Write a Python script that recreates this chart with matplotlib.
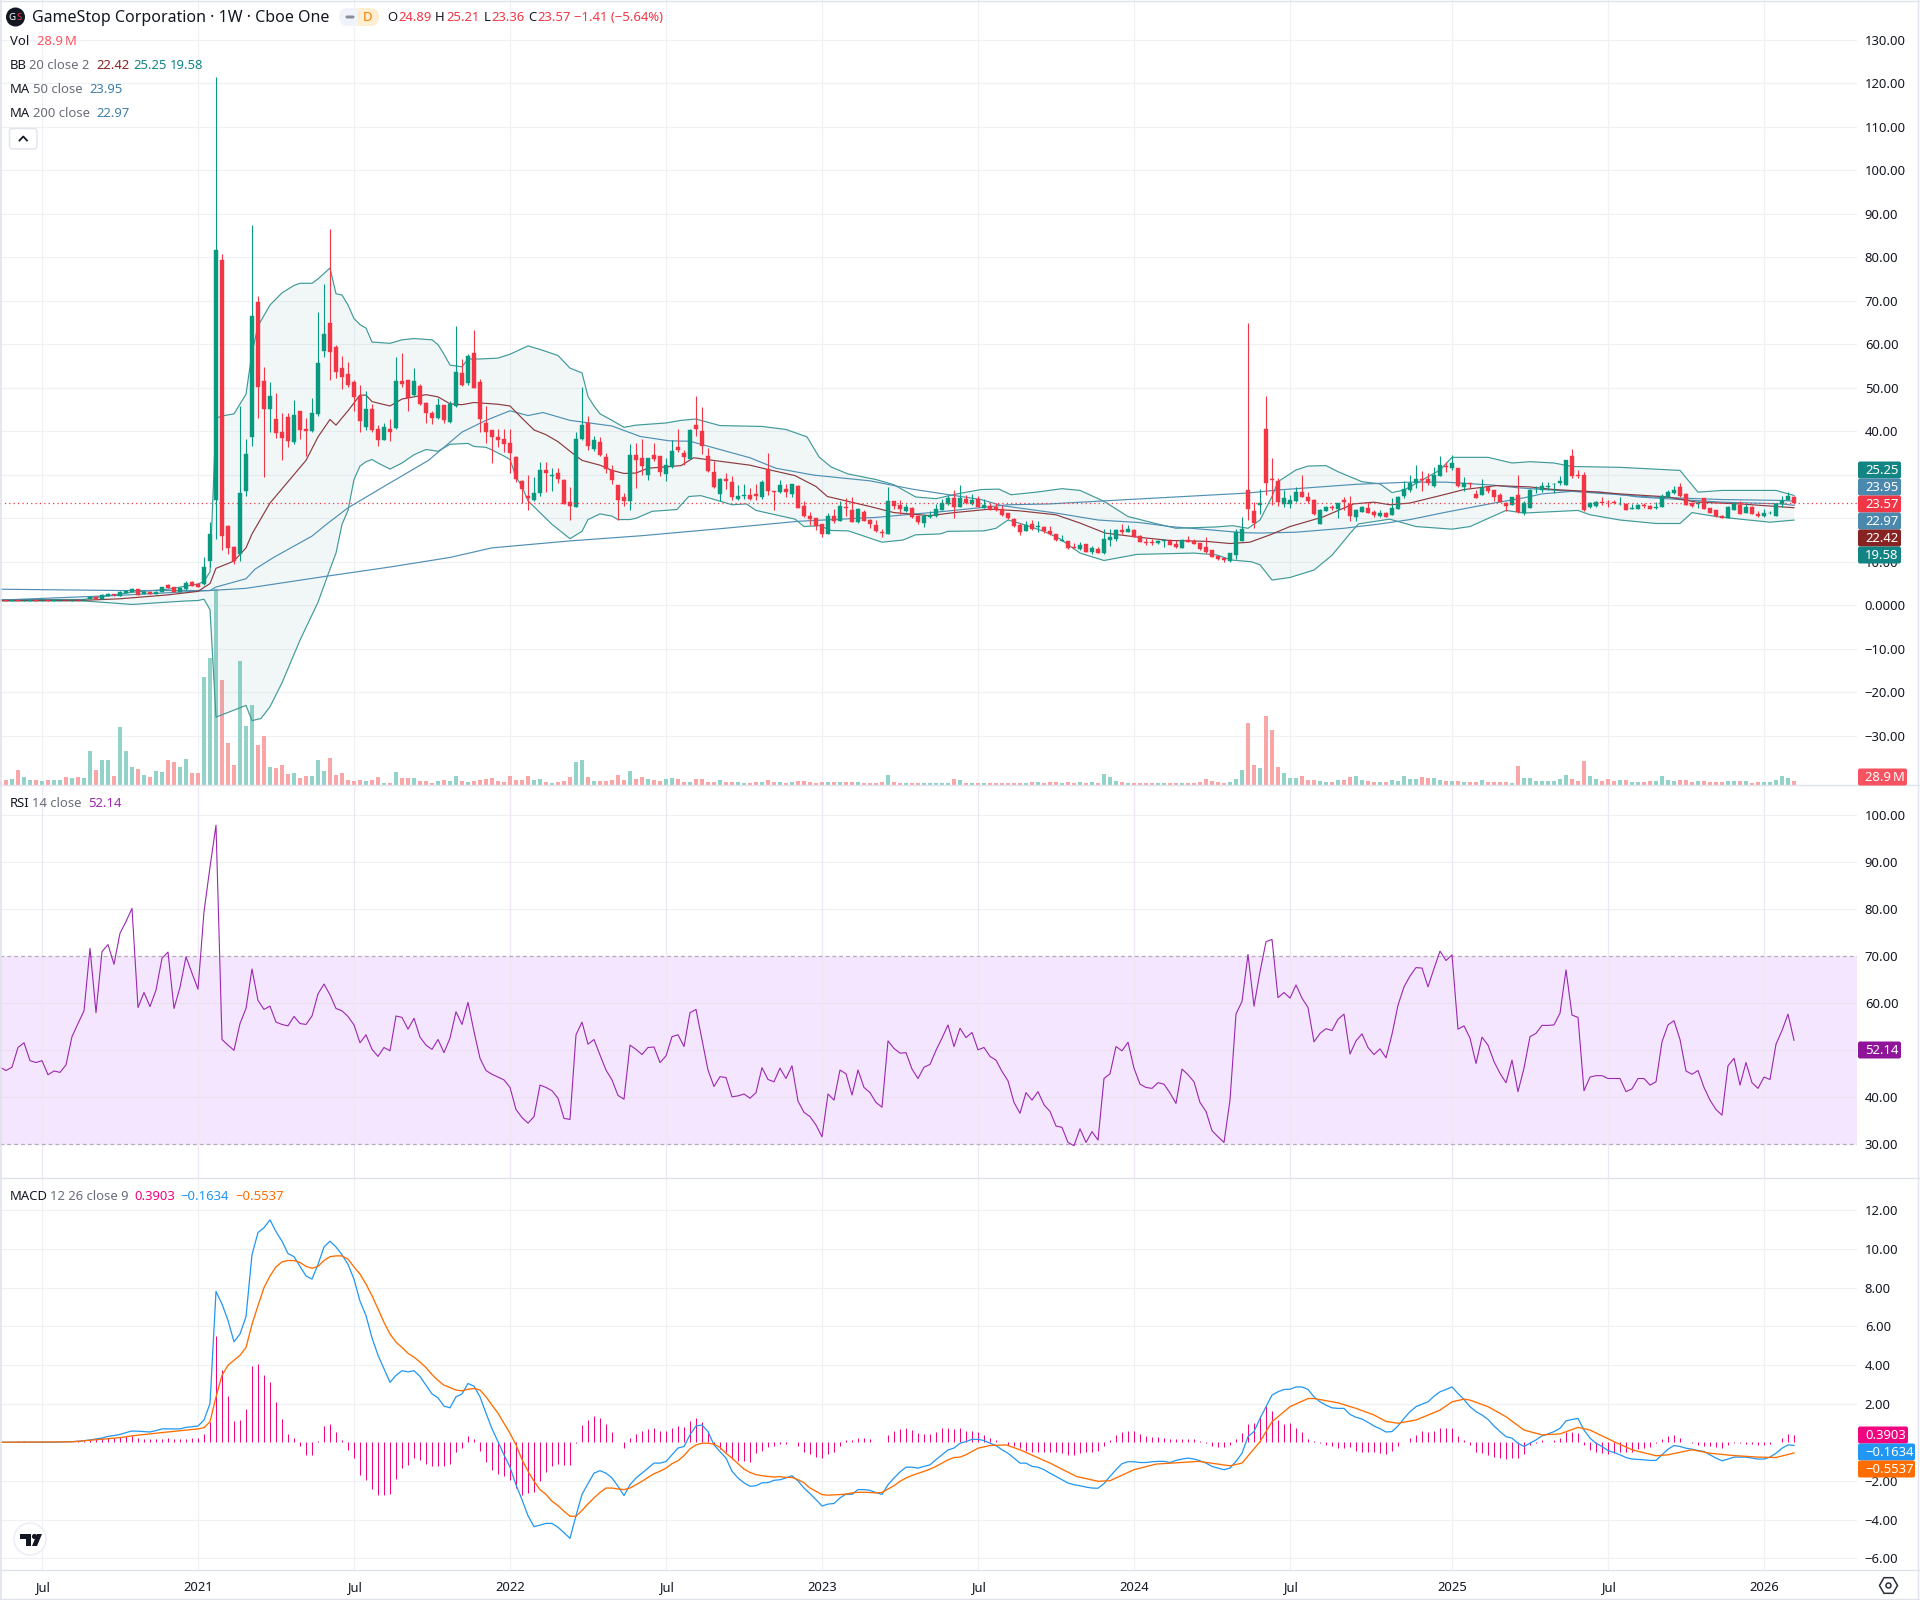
#!/usr/bin/python
# GameStop weekly chart with volume, bollinger bands, moving averages, RSI and MACD
import matplotlib
matplotlib.use('Agg')
import matplotlib.pyplot as plt
from matplotlib.patches import FancyBboxPatch, Rectangle, Circle, Polygon

plt.rcParams['font.family'] = ['Noto Sans', 'DejaVu Sans']

# --- candles, one value per week --- #
opens = [1.25,1.15,1.05,1.2,1.15,1.1,1.2,1.15,1.2,1.1,
         1.15,1.2,1.15,1.2,1.15,1.4,2.0,1.4,2.2,2.6,
         2.2,2.9,3.1,3.75,2.6,3.1,2.6,3.1,4.7,4.2,
         3.1,3.75,5.4,4.9,4.8,10.2,24.2,79.3,18.3,13.4,
         11.7,26.2,38.7,69.7,51.5,45.2,42.8,39.8,43.3,37.6,
         44.6,40.4,40,43.9,58.4,64.8,59.3,54.5,53.2,51.3,
         48,40.9,45.2,40.6,38,40.4,40.7,51.5,51.7,48.4,
         50.4,46.6,44.2,43,46,42.2,45.8,53.4,51.1,57.9,
         51.2,41.8,40.2,38.7,38.2,37.4,34,28.6,25.1,24.3,
         25.7,31,29.7,30.5,28.9,23.7,22.6,38.2,42,35.9,
         37.6,34,31.1,27.6,24.8,24,34.6,33.9,30,34.6,
         34.2,30.2,31.7,36.4,35,33.6,41.5,40,34.4,30.7,
         25.6,29.1,28.4,24.4,25.2,25.4,25.5,24.9,31.4,26.3,
         26.1,26.8,25.6,27.5,22.9,20.6,20.1,18.7,16.5,20.6,
         19.4,22.6,21.9,19.2,21.5,19.6,18.5,16.9,16.5,24,
         23.1,21.7,22.4,20.5,19,20.3,20.6,21.9,23.3,24.7,
         22.7,24.5,23.3,24.5,22.4,22.9,22.6,22.2,21.1,19.9,
         18.5,17.1,18.6,18,18,17.1,16.4,14.8,14.8,13.4,
         13,14.1,12.3,13,12,15,15.3,17.3,16.9,17.3,
         16,14.6,14.6,14.3,14.8,14.8,14.1,13.2,15,14.8,
         14.3,13.4,12.7,11.3,10.9,10.2,11.6,14.8,26.6,21.7,
         23.1,40.4,29.1,28.6,23.3,23.3,24,26.1,25,24.3,
         18.7,21.7,22.5,22.1,24.3,23.3,20.4,21.5,22.4,21.5,
         20.6,21.3,20.8,22.2,25.2,26.6,28,29,29.1,27.5,
         29.8,32,31.6,31.6,27.3,28.1,25.6,25.4,27.2,26.6,
         25.4,23.6,23.1,25.4,21.3,22.4,26.7,26.6,27.2,27.8,
         28,27.7,34.2,30,30,22.7,22.9,23.8,23.8,23.7,
         23.2,23.3,22.2,22.2,23.1,22.9,22.3,22.7,25,25.9,
         27.3,25.6,23.6,23.3,24.7,22.4,21.8,20.6,20,22,
         23.1,21.3,22.7,21,20.6,21.1,20.6,23.3,24.3,24.89]
highs = [1.3,1.2,1.2,1.25,1.25,1.2,1.25,1.25,1.25,1.2,
         1.25,1.25,1.25,1.25,1.35,2.1,2.1,2.5,2.75,2.7,
         3.4,3.6,3.9,3.85,3.2,3.2,3.2,4.2,4.8,4.3,
         4.1,5.5,5.6,5.1,11,19.1,121.3,80.8,18.4,13.6,
         45.8,38.2,87.4,71,54.8,51.2,48.8,44.3,44.1,47.1,
         44.7,43,47.6,67.5,73.8,86.5,59.9,57.2,56,51.8,
         50.6,49.2,46.3,41.4,42,42.7,57,58,51.8,54.5,
         50.8,46.7,44.6,47.7,46.1,46.9,64.1,56.5,57.7,63.3,
         52,45.7,40.3,40.4,40.4,40.4,34.3,28.7,30,29.5,
         33,33,31.5,31.5,29,27.2,39.8,50.1,43.4,39,
         38.7,34.9,32.2,27.7,25.7,37,37.4,38.2,33.9,37.2,
         34.4,33.9,38.1,40.5,35.6,40.5,48.2,45.6,36.2,33.1,
         29.3,30.4,29.8,27.7,27.9,26.9,27.9,28.9,35,26.3,
         28.9,27.9,27.9,27.6,23.9,21.4,20.1,18.7,21.2,22.1,
         23.9,24.6,24.9,22.4,21.9,19.8,19.6,17.5,27.1,24,
         24.1,23.3,22.7,20.8,21,21.6,23.3,24.4,25.4,26.6,
         27.7,25.4,25.6,25.2,24.4,23.6,23.5,23.1,21.2,20.1,
         18.9,19.4,19.6,19.3,18.3,18.3,16.4,16.2,14.8,14.3,
         14.5,14.1,13.6,13.3,17.6,17.6,17.6,18.7,18.5,17.6,
         16.1,15.4,15.3,15,15.2,15.2,15,15.3,16,15.3,
         14.3,15.7,12.7,11.3,10.9,12.1,17.6,20.3,64.9,23.8,
         26.8,48.2,33.9,29.3,26.6,25.4,27.1,30,26.1,24.4,
         22.2,22.9,23.1,23.6,24.8,25.2,22.1,22.9,23.8,21.8,
         22,21.5,24.6,25.2,28.6,30,32.3,30.9,30.4,31.8,
         34.4,32.9,34.6,31.6,29.4,28.2,26.6,29.1,27.3,26.6,
         25.7,23.8,25,30,24,26.7,27.5,28.4,28.4,28.1,
         29.6,33.3,36,31.2,30.7,23.8,24,24.8,24.3,24.3,
         25,23.5,23.3,23.3,23.5,23,23.8,25.6,26.6,27.5,
         28.2,25.9,23.8,24,24.7,22.4,22,20.8,22.9,23.8,
         24,23.3,22.9,21.6,22.1,21.7,23.6,25.2,26,25.21]
lows = [1.1,1.0,1.0,1.05,1.1,1.05,1.05,1.1,1.05,1.05,
        1.1,1.1,1.1,1.1,1.1,1.35,1.35,1.35,2.1,2.2,
        2.1,2.8,3.0,2.4,2.5,2.5,2.5,3.0,4.0,3.0,
        3,3.6,4.4,4.2,4.7,8.8,15.3,12.8,11.7,9.6,
        10.1,25.1,36.7,43,29.5,39.8,38.4,33.3,36.3,37,
        38.2,34.3,39.9,43.6,57,51.7,52.3,49.6,50.1,44.7,
        39.8,40.3,39.8,36.5,37.9,37.8,40.4,50.1,44.7,48,
        46,42,41.6,42.9,42,42,45.5,50.5,50.7,49.9,
        39.8,37.4,32.7,36.3,35.2,30.5,28.4,23.5,21.8,23.9,
        25.1,26,26.2,28.1,23.3,19.5,22.5,38,35.6,35.5,
        34.2,30.3,27.8,19.7,22.9,21.8,27,30,28.7,33.1,
        29.6,28.5,31.5,35.2,32.3,33.6,38.8,34.8,30.7,27,
        23.9,26.7,24.3,24.2,24.4,24.1,24.3,24.4,25.4,22,
        25.8,24.9,25,22.3,20.3,18.5,17.2,15.6,16.5,19,
        19.4,20.6,19.2,19,19.4,17.7,16.8,15.6,16.5,22.1,
        21,21.5,20.1,18.7,18,20.1,20.4,21.9,23.1,20.1,
        22.6,23.3,23.1,22.5,22.3,21.9,21.6,20.6,19.9,18.1,
        16.1,17.1,17.3,16.8,16.7,16.2,14.7,14.7,13,13.1,
        12.7,12.2,11.8,12,11.9,13.6,14.8,16.4,16.9,15.6,
        14.5,13.9,13.9,14.1,13.5,13.9,13.2,13.2,14.6,14.1,
        12.7,12.1,11,10.5,10,10,10.7,14.8,19.6,17.8,
        21,25.4,23,22.9,22.7,22.3,23.8,24.9,23.5,20.7,
        18.7,21.6,22,20,21.8,19.4,19.4,21.4,21.2,20.3,
        20.4,20.3,20.8,22.1,24.7,26.1,26.9,26.3,27.7,27.3,
        29.6,30.6,31,27.1,26.3,26.9,24.7,25.3,25.8,23.9,
        23.7,21.7,23,21.3,20.8,22.3,25.8,26.1,26.6,25.8,
        27.6,27.7,29.3,29.3,21.7,22.3,22.7,23.1,22.7,23.3,
        23.1,22,22.2,22.2,22.4,22.1,22.2,22.7,24.8,25.6,
        25,23,22.7,22.4,22.1,21.2,20.4,20,20,22,
        21,21.2,21,20.2,20.4,20.9,20.6,22.7,24.1,23.36]
closes = [1.15,1.05,1.15,1.1,1.2,1.15,1.1,1.2,1.1,1.15,
          1.2,1.15,1.2,1.15,1.3,2.0,1.4,2.4,2.6,2.3,
          3.05,3.4,3.75,2.45,3.1,2.6,3.1,4.1,4.05,3.1,
          4,5.05,4.5,4.3,8.8,16.4,81.6,15.9,13.2,10.1,
          25.7,34.7,66.4,50.1,45.2,48,39.6,38.5,37.8,43.7,
          40.2,40,44.3,55.7,62.3,58.3,53.6,52.4,50.7,47.8,
          42.3,45.2,40.3,38,40.9,39.9,51.5,50.9,47.6,51.5,
          46.3,44.1,43,46,42.5,46.3,53.6,50.7,57.4,49.9,
          42.8,39.8,38.7,38,37.1,35.1,29.1,26.7,24.6,25.7,
          31.1,30.4,29.9,29.1,23.3,22.8,38.2,41.4,36.5,37.9,
          34.6,31.3,28.7,24.3,23.9,34.6,33.3,32.1,33.9,33.7,
          30.7,32.3,35.5,35.8,34,40.2,40.6,36.7,30.9,27.2,
          29.1,28.6,24.9,25.2,25.4,24.5,25.2,28.4,26.3,26.1,
          27.7,26.1,27.8,22.4,20.6,19.8,18.3,16.5,20.6,19.4,
          22.9,22.3,19.2,22.2,19.4,18.6,17.1,16.7,24,22.9,
          22.2,22.6,20.3,19.2,20.6,20.8,22.2,23.4,24.7,22.6,
          24.7,23.6,24.3,22.6,23.1,22,21.8,20.8,20.1,18.3,
          16.9,18.5,17.6,18.3,17.1,16.4,15,15,13.2,13.2,
          13.9,12.3,13.1,12,15.3,15.7,17.3,16.9,17.6,15.6,
          14.6,14.3,14.3,14.8,15,13.9,13.4,15,14.6,14.1,
          13,12.3,11.1,10.7,10.3,12,16.8,17.6,22.2,18.9,
          23.5,28.2,28.7,23.8,24.6,24.3,26.1,25,24,21,
          22,22.5,22.3,23.5,23.8,20.6,22,22.7,21.3,20.8,
          21.3,20.4,22.4,25,26.7,28,29.1,28.8,28,30,
          32.3,31.8,32.6,27.5,28,27.9,24.7,27,26.3,25,
          23.8,22.9,25,21.5,23.6,26.6,26.8,27.5,27.5,27.9,
          28.6,33.3,29.8,29.6,22,23.6,23.8,23.6,23.7,23.6,
          23.3,22,22.3,23.1,22.9,22.2,22.5,25.2,26.1,26.6,
          25.2,23.1,22.9,23.5,22.2,21.3,20.6,20.1,22.7,23.3,
          21,22.7,21,20.6,21.3,21.3,23.3,24,25.2,23.57]
# volume in millions
volumes = [31,34,44,109,54,34,37,31,34,34,
           37,61,51,61,48,248,105,177,177,68,
           415,248,126,112,75,61,102,95,180,163,
           129,184,85,88,775,911,1411,758,299,146,
           891,422,578,289,350,126,119,146,78,85,
           48,68,68,177,99,194,75,88,37,31,
           37,31,34,61,17,17,95,48,48,48,
           31,27,17,27,34,31,68,27,24,31,
           34,44,51,27,20,68,37,37,68,37,
           44,24,17,20,31,61,167,177,54,27,
           31,27,34,75,34,99,41,58,43,36,
           29,43,53,43,24,24,43,43,24,24,
           36,24,24,24,14,14,24,24,36,24,
           24,14,24,29,29,24,14,24,24,24,
           24,24,24,24,14,14,14,24,72,24,
           14,14,14,14,14,14,14,14,14,43,
           36,14,14,14,14,14,14,14,14,14,
           14,14,24,24,14,24,24,14,24,14,
           24,14,24,14,79,58,29,24,14,14,
           14,14,14,14,14,14,14,14,14,14,
           24,43,29,24,14,24,43,108,449,144,
           122,497,396,130,89,50,50,65,36,36,
           29,24,22,36,36,58,65,36,29,24,
           22,24,36,29,65,43,43,58,50,50,
           36,29,29,29,22,22,22,36,24,22,
           22,22,14,137,50,50,29,29,29,29,
           43,72,43,29,173,65,43,29,43,29,
           36,36,22,22,22,29,29,65,36,29,
           36,36,22,29,29,24,22,22,29,29,
           29,29,14,24,24,24,36,65,50,28.9]

# --- bollinger bands and moving averages, read at the weeks where they bend --- #
upper_weeks = [0,14,15,22,28,33,34,35,36,37,39,41,42,43,45,47,49,50,52,53,55,56,57,58,59,60,61,62,65,67,69,72,73,74,75,77,78,80,83,85,88,90,93,95,97,98,99,100,102,104,106,
               111,113.5,116,120,127,131,134.5,136.5,138.5,141.3,146,149,152.6,156,159.5,163.5,166.5,168.5,172.7,177,180,184,188,192.3,196,202.6,205.4,208,210,212,213,216,218,221,223,227,230,232,234,236,240,242,248,252,255,259,262,270,280,283,287,296,299]
upper_vals = [1.3,1.35,1.6,3,3.7,4.9,5.5,7.7,43,43.5,44,48.5,58,64.2,69,71.8,73.5,74,74,75,77.5,71.6,71.3,69,65.9,64.5,63.7,60.5,60.2,61,61.3,61,59.9,57.7,55.2,54.8,56.6,56.6,56.8,57.7,59.6,58.8,57.4,54.5,53.4,48,45.8,44,42.5,40.9,41.4,
              41.9,42.5,42.8,41.3,41.1,40.4,38.7,34.1,31.8,30.2,28.9,27.7,24.9,24.5,25.6,26.6,26.7,25.4,26,26.8,26.4,23.9,20.4,18.9,17.7,18,18.3,17.7,19.6,25,28.4,31.1,32,32.1,30.7,28.4,27.9,25.9,26.5,28,31.1,34,34,32.7,33,32.7,31.9,31.7,31,26,26.4,26.4,25.25]
lower_weeks = [0,14,22,31,33,34,35,36,41,42,43.5,45,47,50,53,55,56,57,58,59,60,61,62,63,65,67,69,71,73,75,78,79,81,82,84,85,86,87,88,90,92,95,97,98,100,102,103,105,106,
               108.7,112.8,114.8,116.8,119.6,122,124.4,126,132.5,134,136.6,138.5,141.4,147,150.5,152.6,156.7,158,164,166,168,170.3,174,176.5,180,184,189.5,199,202.7,205.3,208.6,210,212,215,219,222,225,226.4,231.6,236,242,245,251,254,263,265,270,276,280,282,286,290,295,299]
lower_vals = [1.0,1.0,0.2,1.0,1.1,1.4,-1,-25.7,-23,-26.5,-26,-23.3,-17.8,-8,0.7,8.3,12,18.6,21.8,28.9,32,33,33.5,32.7,31.3,32.7,34.6,35.8,35.4,37,37.2,36.5,36.3,35.7,34.3,33.5,29.5,27.3,24,21.3,18.6,15.3,17,19.7,21,20.5,19.7,19.7,20,
              21.6,22,25,25.2,24.1,23.1,23.3,21.8,19.8,18.1,18.3,17.2,17.1,14.5,15,16.2,16.4,17,17.1,17.7,19.6,18.7,17,15.4,12,10.3,11.7,12,11.6,10.4,10,9.3,5.8,6.4,8.1,11.5,16.5,18.7,19.8,18.1,17.5,18.1,21.8,21.2,21.8,20.8,19.6,18.8,18.8,21.3,20.4,19.8,19.1,19.58]
basis_weeks = [0,14,20,28,33,35,36,38,39,41,42,45,48,51,53,55,56,58,60,61,62,65,67,69,71,73,75,77,79,83,85,87,89,91,93,95,97,100,102,104,106,
               108,113.5,115.6,120,125,127.7,132.5,136,137.9,145,149,155,159,165,170,176,180,184.2,190,195,201,205,208.3,211.7,215,220.5,225.6,229,231.7,235,240.6,244,249.4,255,259,264.4,270,278,282.8,290,299]
basis_vals = [1.1,1.15,1.5,2.4,3.2,5,8.5,9.6,10.2,13.2,16.4,23.5,28.4,33.3,38.7,42.7,41.4,44.7,48.3,48.3,46.8,45.8,47.4,47.9,48.4,47.9,46.3,46.1,46.6,46.2,45.8,43,40.3,39.2,37.6,35.4,33.3,32.2,31,30.3,30.4,
              31.5,32.1,33.9,33.1,32.2,31.3,29.8,27.3,25,22.7,21.3,20.6,21.3,22.1,21.7,20.8,18.9,16.6,15.6,14.9,14.7,14.2,14.5,16.2,18.1,20.3,23.3,23.7,23.1,23.5,25.4,26.6,27.5,27.2,26.6,26.2,25.6,24.9,23.7,23.3,22.42]
ma_slow_weeks = [0,20,35,41,54,65,75,82,95,107,120,133,146,157.5,168,175,188,208,213,226,235,241,249,253,264,275,287,297,299]
ma_slow_vals = [3.7,3.4,3.4,3.9,6.6,8.8,11,13.2,14.8,16,17.6,19.3,20.2,21.6,23.1,23.3,24.3,25.8,26.5,27.8,28.3,28.3,27.6,27,26,24.9,24.3,24.1,23.95]
ma_fast_weeks = [0,20,35,36,41,42.5,45.6,52,54.4,58,64.6,71.4,77,81,85,88,90.5,95,102,106.7,111.5,115,120,125,129.3,135.7,145,152,163.5,167,176,183,190,195,202,207,210,216,224,230,235,241,249,254,257,262,267,273,280,287,297,299]
ma_fast_vals = [1.2,2.3,3.4,4.2,6.1,8.3,11,15.9,18.6,22.4,27.8,33.3,39.8,42.5,44.7,43.6,44.3,42.5,41.2,38.8,37.8,37.7,35.8,33.9,31.5,29.9,28.6,26.7,24.3,22.9,21.2,19.6,19,18.1,17.3,16.7,16.6,16.8,17.7,18.7,19.7,21.4,23.5,24.7,25.6,26.2,26,24.9,24.3,23.7,23.3,22.97]

# --- RSI, one value per week --- #
rsi = [46.4,45.7,46.4,50.6,51.6,47.8,47.4,47.8,44.8,45.6,
       45.3,46.9,52.9,55.7,58.4,71.7,58,71,72.5,68.3,
       74.9,77.4,80.2,59.1,62.3,59.3,62.8,69.6,70.9,58.9,
       63.4,69.9,66.4,63,79.5,89,97.9,52.3,51.1,50,
       55.7,58.9,67.3,60.6,58.7,59.4,56,55.5,55.2,57.2,
       55.7,55.5,57.3,62,64.1,61.8,58.9,58.4,57.2,55.4,
       51.6,53.3,50.2,48.7,50.6,49.9,57.3,57,54.5,56.8,
       52.8,51.1,50.2,52.3,49.5,52.6,58.2,55.5,60.2,54,
       48.3,45.7,44.9,44.3,43.7,42.1,37.4,35.7,34.5,35.9,
       42.6,42.1,41.4,39.8,35.5,35.3,53.3,56,51.3,52.3,
       49,45.8,43.7,40.4,39.6,51.1,50.2,49.1,50.6,50.7,
       47.4,48.8,52.9,53.3,50.8,58,58.7,52.2,45.8,42.3,
       44.4,44.2,40.1,40.3,40.7,39.8,41,46.3,43.8,43.3,
       46.2,44,46.7,39.2,36.8,35.9,34.1,31.6,40.7,39.4,
       45.8,45,40.5,45.8,42.1,41,38.9,37.9,52,50.4,
       49.4,49.5,46,44,46.4,47,50,52.6,55.4,50.8,
       54.7,52.7,53.8,50.1,50.6,48.7,47.9,45.5,43.5,38.9,
       36.6,41,39.4,41.2,38.4,37,33.9,33.6,30.4,29.7,
       33.3,30.4,32.7,30.9,44,45,50.8,49.9,51.7,46.2,
       42.8,42.1,41.9,43.1,42.8,40.9,38.7,46,44.8,43.3,
       38.9,37,32.9,31.6,30.4,39.4,57.7,60.4,70.4,59.4,
       66.7,73.1,73.6,61.2,62.3,61.1,63.9,61.1,59.1,51.8,
       53.6,54.6,54.2,56.6,57.7,49.2,52,53.5,50.6,49.1,
       50.3,48.4,53.4,59.6,63.5,65.8,67.6,67.5,63.5,67.4,
       71.1,69.1,70.3,54.5,55.2,52.6,47.2,52.8,51.1,47.6,
       45.1,43.1,47.9,41.2,46.2,52.9,53.6,55.3,55.3,55.4,
       57.9,67.1,57.5,57,41.4,44.3,44.6,44.6,44,44,
       44,41.2,41.8,44,44,42.6,43.3,51.8,55.4,56.3,
       52.3,45.6,44.9,45.7,42.1,39.4,37.4,36.2,46.7,48.3,
       42.6,47.4,43.1,41.9,44.3,43.8,51.3,54.2,57.7,52.14]

# --- MACD, one value per week --- #
macd = [0,0,0,0,0,0,0,0,0,0,
        0.01,0.02,0.03,0.05,0.08,0.12,0.17,0.22,0.3,0.35,
        0.4,0.5,0.58,0.57,0.55,0.53,0.6,0.69,0.69,0.69,
        0.69,0.77,0.8,0.84,1.15,2,7.8,7.15,6.3,5.2,
        5.6,6.5,9.7,10.85,11.1,11.5,10.9,10.4,9.76,9.6,
        9.1,8.6,8.44,9.2,10.1,10.4,10.1,9.7,9.2,8.44,
        7.3,6.55,5.4,4.5,3.8,3.1,3.46,3.7,3.64,3.7,
        3.4,2.95,2.5,2.3,1.87,1.78,2.35,2.5,3.04,2.9,
        2.35,1.5,0.7,0.03,-0.65,-1.29,-2.2,-2.97,-3.8,-4.37,
        -4.29,-4.2,-4.2,-4.4,-4.68,-4.97,-3.8,-2.7,-2.14,-1.6,
        -1.47,-1.6,-1.85,-2.28,-2.76,-2.2,-1.85,-1.6,-1.34,-1.08,
        -1.08,-1,-0.65,-0.3,-0.22,0.38,0.84,0.89,0.55,-0.14,
        -0.48,-0.82,-1.5,-1.85,-2.1,-2.28,-2.25,-2.1,-2.09,-1.97,
        -1.94,-1.85,-1.73,-2,-2.37,-2.66,-2.97,-3.3,-3.2,-3.17,
        -2.88,-2.68,-2.7,-2.45,-2.45,-2.49,-2.6,-2.7,-2.2,-1.85,
        -1.54,-1.29,-1.29,-1.34,-1.25,-1.17,-0.9,-0.65,-0.4,-0.3,
        -0.05,0.03,0.15,0.15,0.09,-0.05,-0.17,-0.39,-0.57,-0.82,
        -1.08,-1.08,-1.25,-1.29,-1.42,-1.6,-1.77,-1.94,-2.11,-2.2,
        -2.25,-2.32,-2.37,-2.38,-2.14,-1.77,-1.42,-1.11,-1.01,-1.01,
        -1.05,-1.05,-1.01,-0.99,-0.99,-1.05,-0.94,-0.87,-0.82,-0.87,
        -0.96,-1.08,-1.25,-1.34,-1.42,-1.34,-0.99,-0.57,0.29,0.55,
        1.23,1.84,2.44,2.61,2.73,2.74,2.86,2.86,2.73,2.35,
        2.09,1.92,1.78,1.75,1.75,1.44,1.29,1.2,1.03,0.84,
        0.7,0.53,0.55,0.84,1.23,1.58,1.84,1.97,2.09,2.38,
        2.61,2.73,2.86,2.52,2.21,1.84,1.58,1.41,1.18,0.84,
        0.55,0.29,0.21,-0.05,-0.22,-0.05,0.12,0.33,0.43,0.55,
        0.72,1.1,1.18,1.23,0.63,0.21,-0.05,-0.22,-0.43,-0.53,
        -0.65,-0.79,-0.87,-0.89,-0.91,-0.94,-0.94,-0.65,-0.36,-0.17,
        -0.22,-0.31,-0.36,-0.43,-0.48,-0.65,-0.82,-0.96,-0.87,-0.77,
        -0.77,-0.77,-0.82,-0.87,-0.87,-0.77,-0.57,-0.31,-0.14,-0.1634]
signal_weeks = [0,12,20,22,27] + list(range(33,161)) + [161,163,165,167.7,170,175,179.4,183,185,189,192.7,199.8,205,207,210,212,215,218,219,223,226,229,231,233,236,240,242,244,245,248,251,254,257,260,263,265,269,272,276,278,282,285,289,293,296,299]
signal_vals = [0,0.02,0.24,0.33,0.5,
               0.69,0.75,1.06,2.35,3.46,3.98,4.24,4.5,4.9,6.1,
               7.07,8,8.6,9.07,9.33,9.4,9.4,9.3,9.1,9,
               9.1,9.4,9.6,9.64,9.64,9.47,9.07,8.7,8.18,7.58,
               6.9,6.2,5.6,5.18,4.9,4.6,4.4,4.15,3.86,3.5,
               3.2,2.95,2.83,2.7,2.66,2.74,2.78,2.7,2.35,1.92,
               1.5,0.98,0.46,-0.14,-0.9,-1.5,-2.02,-2.45,-2.7,-3.05,
               -3.28,-3.57,-3.83,-3.83,-3.53,-3.19,-2.88,-2.6,-2.37,-2.37,
               -2.42,-2.45,-2.37,-2.2,-2.02,-1.82,-1.63,-1.5,-1.34,-1.11,
               -0.96,-0.69,-0.34,-0.14,-0.05,-0.05,-0.1,-0.27,-0.57,-0.82,
               -1.11,-1.39,-1.56,-1.68,-1.73,-1.77,-1.8,-1.78,-1.82,-1.82,
               -1.94,-2.1,-2.37,-2.54,-2.71,-2.74,-2.72,-2.71,-2.68,-2.62,
               -2.59,-2.59,-2.6,-2.62,-2.6,-2.42,-2.25,-2.02,-1.85,-1.72,
               -1.61,-1.51,-1.39,-1.25,-1.08,-0.91,-0.79,-0.77,
               -0.65,-0.31,-0.17,-0.14,-0.39,-1.08,-1.77,-2.02,-1.99,-1.42,-1.13,-0.99,-1.22,-1.08,0.03,1.06,1.84,2.26,2.26,2.04,1.75,1.41,1.08,0.98,1.15,1.66,2.09,2.23,2.18,1.84,1.32,0.63,0.38,0.43,0.77,0.63,0.03,-0.39,-0.7,-0.65,-0.39,-0.57,-0.69,-0.77,-0.79,-0.5537]
hist = [0.02,0.03,0.03,0.05,0.05,0.03,0.02,0.02,0.02,0.02,
        0.02,0.02,0.03,0.05,0.08,0.1,0.15,0.2,0.22,0.2,
        0.25,0.3,0.3,0.2,0.18,0.15,0.15,0.18,0.2,0.17,
        0.15,0.18,0.2,0.2,0.45,1.06,5.5,3.75,2.37,1.1,
        1.15,1.7,3.95,4.03,3.5,3.1,2.1,1.2,0.43,0.24,
        -0.22,-0.65,-0.65,0.07,0.84,0.94,0.55,0.09,-0.4,-0.8,
        -1.68,-1.94,-2.4,-2.74,-2.74,-2.7,-1.89,-1.34,-1.17,-0.82,
        -0.9,-1.11,-1.25,-1.25,-1.22,-1.11,-0.48,-0.3,0.32,0.17,
        -0.43,-1,-1.42,-1.65,-1.77,-1.94,-2.37,-2.74,-2.62,-2.6,
        -2,-1.56,-1.25,-1.11,-1.17,-1.17,-0.05,0.89,1.15,1.36,
        1.25,0.94,0.55,0.03,-0.3,0.2,0.43,0.6,0.69,0.75,
        0.6,0.6,0.75,0.84,0.77,1.11,1.25,1.03,0.55,-0.14,
        -0.36,-0.53,-0.87,-0.96,-0.96,-1,-0.57,-0.43,-0.26,-0.22,
        -0.1,-0.1,0.03,-0.19,-0.48,-0.6,-0.77,-0.82,-0.6,-0.48,
        -0.17,0.12,0.12,0.24,0.24,0.15,0.03,0,0.39,0.6,
        0.69,0.72,0.63,0.46,0.43,0.43,0.51,0.75,0.72,0.69,
        0.72,0.6,0.6,0.51,0.38,0.2,0.12,0.03,-0.14,-0.19,
        -0.31,-0.43,-0.48,-0.48,-0.48,-0.48,-0.53,-0.57,-0.65,-0.65,
        -0.57,-0.53,-0.48,-0.43,-0.19,0.12,0.38,0.55,0.6,0.6,
        0.43,0.33,0.29,0.29,0.24,0.17,0.15,0.17,0.17,0.15,
        0.05,-0.05,-0.17,-0.26,-0.27,-0.14,0.17,0.46,0.94,0.98,
        1.35,1.87,1.63,1.15,0.93,0.98,0.72,0.55,0.15,0.07,
        -0.02,-0.14,-0.22,-0.31,-0.31,-0.27,-0.43,-0.48,-0.48,-0.48,
        -0.57,-0.6,-0.43,-0.22,0.03,0.2,0.38,0.6,0.55,0.6,
        0.72,0.75,0.75,0.33,0.09,-0.14,-0.48,-0.57,-0.65,-0.74,
        -0.82,-0.87,-0.82,-0.82,-0.6,-0.14,-0.05,0.12,0,0.09,
        0.2,0.51,0.51,0.46,-0.14,-0.39,-0.48,-0.57,-0.6,-0.57,
        -0.53,-0.48,-0.48,-0.36,-0.31,-0.27,-0.05,0.17,0.34,0.39,
        0.2,0.03,-0.05,-0.14,-0.19,-0.22,-0.27,-0.31,-0.14,-0.02,
        -0.05,-0.09,-0.09,-0.14,-0.14,-0.09,0,0.2,0.43,0.3903]

# --- axis labels --- #
time_ticks = [7,33,59,85,111,137,163,189,215,242,268,294]
time_labels = ['Jul','2021','Jul','2022','Jul','2023','Jul','2024','Jul','2025','Jul','2026']
price_ticks = [130,120,110,100,90,80,70,60,50,40,30,20,10,0,-10,-20,-30]
# 30 and 20 sit fully behind the value tags on the scale, so they show no text
price_labels = ['130.00','120.00','110.00','100.00','90.00','80.00','70.00','60.00','50.00','40.00','','','10.00','0.0000','\u221210.00','\u221220.00','\u221230.00']
rsi_ticks = [100,90,80,70,60,50,40,30]
rsi_labels = ['100.00','90.00','80.00','70.00','60.00','50.00','40.00','30.00']
macd_ticks = [12,10,8,6,4,2,-2,-4,-6]
macd_labels = ['12.00','10.00','8.00','6.00','4.00','2.00','\u22122.00','\u22124.00','\u22126.00']

# --- colors --- #
UP = '#089981'
DOWN = '#f23645'
UP_VOL = '#93d2c8'
DOWN_VOL = '#f9a6a9'
TEAL = '#3f9a98'
BASIS = '#8b3a3f'
MA_COL = '#4f8fb4'
GRID = '#f0f1f4'
EDGE = '#e0e3eb'
INK = '#131722'
GREY = '#6a6d78'
PURPLE = '#9c27b0'
TEXT_SIZE = 9.4

W, H = 1920, 1600
RIGHT = 1857
WEEK_PX = 6.0

fig = plt.figure(figsize=(W/100., H/100.), dpi=100, facecolor='white')

def make_pane(top, bottom, ylim, ticks, labels):
    ax = fig.add_axes([0, 1-bottom/H, RIGHT/W, (bottom-top)/H])
    ax.set_xlim(0, RIGHT/WEEK_PX)
    ax.set_ylim(*ylim)
    ax.set_yticks(ticks)
    ax.set_yticklabels(labels, fontsize=TEXT_SIZE, color=INK)
    ax.yaxis.tick_right()
    ax.set_xticks(time_ticks)
    ax.tick_params(axis='both', length=0)
    ax.tick_params(axis='y', pad=5.6)
    ax.tick_params(axis='x', labelbottom=False)
    ax.grid(True, color=GRID, lw=0.9)
    ax.set_axisbelow(True)
    for s in ax.spines.values():
        s.set_visible(False)
    return ax

# --- price pane --- #
ax_vol = fig.add_axes([0, 1-785./H, RIGHT/W, 785./H])
ax_vol.set_xlim(0, RIGHT/WEEK_PX)
ax_vol.set_ylim(0, 5650)
ax_vol.axis('off')
ax_vol.set_zorder(2)

ax1 = make_pane(0, 785, (-41.29, 139.09), price_ticks, price_labels)
ax1.set_zorder(1)
ax1.patch.set_facecolor('white')

ax_price = fig.add_axes([0, 1-785./H, RIGHT/W, 785./H], sharex=ax1, sharey=ax1)
ax_price.axis('off')
ax_price.set_zorder(3)

weeks = list(range(len(closes)))
vol_cols = [UP_VOL if c >= o else DOWN_VOL for o, c in zip(opens, closes)]
ax_vol.bar(weeks, volumes, width=0.82, color=vol_cols, lw=0)

# band fill needs one shared x, so only the line vertices are used for the outline
band_x = upper_weeks + lower_weeks[::-1]
band_y = upper_vals + lower_vals[::-1]
ax_price.fill(band_x, band_y, color=TEAL, alpha=0.07, lw=0, zorder=1)
ax_price.plot(upper_weeks, upper_vals, color=TEAL, lw=0.85, zorder=2)
ax_price.plot(lower_weeks, lower_vals, color=TEAL, lw=0.85, zorder=2)
ax_price.plot(ma_slow_weeks, ma_slow_vals, color=MA_COL, lw=0.85, zorder=2)
ax_price.plot(ma_fast_weeks, ma_fast_vals, color=MA_COL, lw=0.85, zorder=2)
ax_price.plot(basis_weeks, basis_vals, color=BASIS, lw=0.85, zorder=2.1)

cols = [UP if c >= o else DOWN for o, c in zip(opens, closes)]
ax_price.vlines(weeks, lows, highs, colors=cols, lw=0.8, zorder=3)
ax_price.bar(weeks, [abs(c-o) for o, c in zip(opens, closes)],
             bottom=[min(o, c) for o, c in zip(opens, closes)],
             width=0.78, color=cols, edgecolor=cols, lw=0.3, zorder=4)
ax_price.axhline(closes[-1], color=DOWN, lw=0.9, ls=(0, (1, 2.5)), zorder=5)

# --- RSI pane --- #
ax2 = make_pane(785, 1178, (22.83, 106.45), rsi_ticks, rsi_labels)
ax2.axhspan(30, 70, color='#f4e6fe', lw=0, zorder=0)
ax2.grid(False)
for t in rsi_ticks:
    ax2.axhline(t, color='#eadff0' if 30 < t < 70 else GRID, lw=0.9, zorder=0.5)
for t in time_ticks:
    ax2.axvline(t, color='#eee6f3', lw=0.9, zorder=0.5)
for level in (30, 70):
    ax2.axhline(level, color='#b9a7c4', lw=0.9, ls=(0, (3, 2.5)), zorder=1)
ax2.plot(weeks, rsi, color=PURPLE, lw=0.8, zorder=2)

# --- MACD pane --- #
ax3 = make_pane(1178, 1570, (-6.61, 13.67), macd_ticks, macd_labels)
ax3.vlines(weeks, 0, hist, colors='#f0047f', lw=0.72, zorder=2)
ax3.plot(weeks, macd, color='#2196f3', lw=0.9, zorder=3)
ax3.plot(signal_weeks, signal_vals, color='#ff6d00', lw=0.95, zorder=3)
ax3.tick_params(axis='x', labelbottom=True, pad=7.6)
ax3.set_xticklabels(time_labels, fontsize=TEXT_SIZE, color=INK)
for lab in ax3.get_xticklabels():
    if lab.get_text().isdigit():
        lab.set_fontweight('bold')

# --- overlay in pixels: legend, tags, logos --- #
top = fig.add_axes([0, 0, 1, 1])
top.set_xlim(0, W)
top.set_ylim(H, 0)
top.axis('off')
top.set_zorder(10)

for y in (785, 1178, 1570):
    top.plot([0, W], [y, y], color=EDGE, lw=1)
top.plot([1, 1], [0, H], color=EDGE, lw=1.2)
top.plot([0, W], [1, 1], color=EDGE, lw=1)
top.plot([0, W], [1599, 1599], color=EDGE, lw=1)
top.plot([1918, 1918], [0, H], color=EDGE, lw=1)

def label(x, y, s, color=INK, size=TEXT_SIZE, **kw):
    top.text(x, y+1.8, s, color=color, fontsize=size, va='center', ha='left', **kw)

def tag(y, s, color, width=43):
    top.add_patch(FancyBboxPatch((1858, y-8.5), width, 17, boxstyle='round,pad=0,rounding_size=2',
                                 fc=color, ec='none', zorder=3))
    top.text(1858+7, y+0.5, s, color='white', fontsize=TEXT_SIZE, va='center', ha='left', zorder=4)

# logo
top.add_patch(Circle((15.5, 17), 9.5, fc='#131722', ec='none'))
top.text(12.3, 17.3, 'G', color='white', fontsize=7, fontweight='bold', va='center', ha='center')
top.text(18.9, 17.3, 'S', color='#f23645', fontsize=7, fontweight='bold', va='center', ha='center')
label(32, 16, 'GameStop Corporation \u00b7 1W \u00b7 Cboe One', size=11.5)

# delayed data pill
top.add_patch(FancyBboxPatch((339, 8), 40, 18, boxstyle='round,pad=0,rounding_size=9', fc='#f0f3fa', ec='none'))
top.add_patch(FancyBboxPatch((358, 8), 21, 18, boxstyle='round,pad=0,rounding_size=9', fc='#ffeed1', ec='none'))
top.add_patch(Rectangle((358, 8), 10, 18, fc='#ffeed1', ec='none'))
top.add_patch(FancyBboxPatch((345.5, 15.5), 9, 3, boxstyle='round,pad=0,rounding_size=1.5', fc='#8a8e99', ec='none'))
top.text(368, 17.5, 'D', color='#f57c00', fontsize=9.5, fontweight='bold', va='center', ha='center')

# OHLC
label(387, 16, 'O')
label(398, 16, '24.89', DOWN)
label(435, 16, 'H')
label(446, 16, '25.21', DOWN)
label(483.5, 16, 'L')
label(491, 16, '23.36', DOWN)
label(528.6, 16, 'C')
label(537.5, 16, '23.57', DOWN)
label(574.5, 16, '\u22121.41 (\u22125.64%)', DOWN)

label(10, 40, 'Vol')
label(37, 40, '28.9\u2009M', '#f7525f')
label(10, 64, 'BB')
label(29, 64, '20 close 2', GREY)
label(96, 64, '22.42', '#872323')
label(133, 64, '25.25', '#138484')
label(170, 64, '19.58', '#138484')
label(10, 88, 'MA')
label(33, 88, '50 close', GREY)
label(89.5, 88, '23.95', '#3f7fa8')
label(10, 112, 'MA')
label(33, 112, '200 close', GREY)
label(96, 112, '22.97', '#3f7fa8')
top.add_patch(FancyBboxPatch((9.5, 128.5), 27.5, 20.5, boxstyle='round,pad=0,rounding_size=3', fc='white', ec=EDGE, lw=1))
top.plot([19.5, 23.3, 27], [140.5, 136.5, 140.5], color=INK, lw=1.3)

label(10, 802, 'RSI')
label(32, 802, '14 close', GREY)
label(88, 802, '52.14', PURPLE)
label(10, 1195, 'MACD')
label(50, 1195, '12 26 close 9', GREY)
label(134.5, 1195, '0.3903', '#f0047f')
label(180, 1195, '\u22120.1634', '#2196f3')
label(235, 1195, '\u22120.5537', '#ff6d00')

# price scale tags, pushed apart the way the scale stacks them
tag(470, '25.25', '#138484')
tag(487, '23.95', '#4a88ad')
tag(504, '23.57', DOWN)
tag(521, '22.97', '#4a88ad')
tag(538, '22.42', '#872323')
tag(555, '19.58', '#138484')
tag(777, '28.9\u2009M', '#f7525f', width=49)
tag(1050, '52.14', '#8e1599')
tag(1435, '0.3903', '#f0047f', width=50)
tag(1452, '\u22120.1634', '#2196f3', width=57)
tag(1469, '\u22120.5537', '#ff6d00', width=57)

# chart logo
top.add_patch(Circle((30, 1539), 16, fc='white', ec='#eceef2', lw=1.2))
top.add_patch(Polygon([[20, 1534], [31, 1534], [31, 1546], [26, 1546], [26, 1539], [20, 1539]], fc=INK, ec='none'))
top.add_patch(Circle((34.5, 1536.5), 2.6, fc=INK, ec='none'))
top.add_patch(Polygon([[37, 1534], [42, 1534], [37, 1546], [32, 1546]], fc=INK, ec='none'))

# settings icon
top.plot([1888], [1585], marker='H', ms=13, mfc='white', mec='#2a2e39', mew=1.1)
top.plot([1888], [1585], marker='o', ms=3.6, mfc='white', mec='#2a2e39', mew=1.1)

fig.savefig('out.png', dpi=100)
